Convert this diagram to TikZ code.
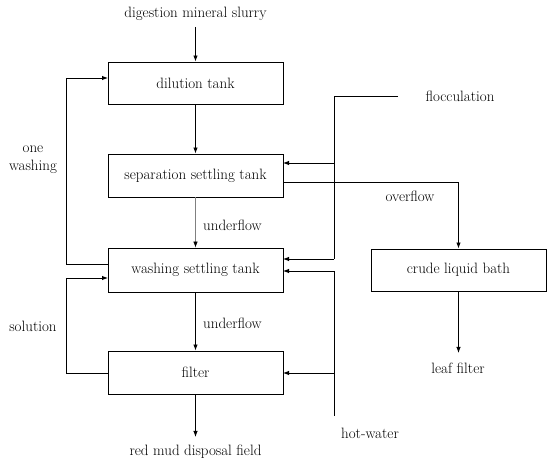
\documentclass[tikz,border=0pt]{standalone}
\usetikzlibrary{arrows.meta}
\begin{document}
\begin{tikzpicture}[x=1pt,y=-1pt,
  box/.style={draw,line width=0.95pt,minimum width=175pt,inner sep=0pt,font=\fontsize{15}{18}\selectfont},
  lbl/.style={inner sep=0pt,font=\fontsize{15}{18}\selectfont,align=center},
  conn/.style={line width=0.95pt},
  arr/.style={line width=0.95pt,-{Latex[length=6pt,width=4.5pt]}},
  thinarr/.style={line width=0.6pt,draw=gray,-{Latex[length=6pt,width=4.5pt,fill=black,color=black]}}]
\useasboundingbox (0,0) rectangle (550,465);
% boxes
\node[box,minimum height=42pt] (dil) at (195.5,83) {dilution tank};
\node[box,minimum height=43pt] (sep) at (195.5,175.5) {separation settling tank};
\node[box,minimum height=44pt] (wash) at (195.5,270) {washing settling tank};
\node[box,minimum height=43pt] (filt) at (195.5,372.5) {filter};
\node[box,minimum height=42pt] (crude) at (458.5,270) {crude liquid bath};
% labels
\node[lbl] (slurry) at (195.5,14) {digestion mineral slurry};
\node[lbl] (onewash) at (33,160) {one\\washing};
\node[lbl,anchor=west] (uf1) at (203,225) {underflow};
\node[lbl,anchor=west] (uf2) at (203,323) {underflow};
\node[lbl] (redmud) at (195.5,452) {red mud disposal field};
\node[lbl] (floc) at (460,96) {flocculation};
\node[lbl] (over) at (410,196) {overflow};
\node[lbl] (hot) at (370,433) {hot-water};
\node[lbl] (leaf) at (458,368) {leaf filter};
\node[lbl] (sol) at (33,326) {solution};
% coordinates
\coordinate (slurryEnd) at (195.5,27);
\coordinate (redEnd) at (195.5,437);
\coordinate (leafEnd) at (458.5,353);
\coordinate (flocStart) at (398,96);
\coordinate (flocBend) at (334,96);
\coordinate (hotStart) at (334,416);
\coordinate (dilIn) at (108,78);
\coordinate (washOut) at (108,264);
\coordinate (washIn) at (108,278);
\coordinate (filtOut) at (108,373);
\coordinate (sepFloc) at (283,163);
\coordinate (sepOver) at (283,182);
\coordinate (washFloc) at (283,259);
\coordinate (washHot) at (283,271);
\coordinate (filtHot) at (283,373);
% main flow
\draw[arr] (slurryEnd) -- (dil.north);
\draw[arr] (dil) -- (sep);
\draw[thinarr] (sep) -- (wash);
\draw[arr] (wash) -- (filt);
\draw[arr] (filt) -- (redEnd);
\draw[arr] (crude) -- (leafEnd);
% loops on left
\draw[arr] (washOut) -- (66,264) |- (dilIn);
\draw[arr] (filtOut) -- (66,373) |- (washIn);
% flocculation
\draw[conn] (flocStart) -- (flocBend) -- (334,259);
\draw[arr] (334,163) -- (sepFloc);
\draw[arr] (334,259) -- (washFloc);
% overflow
\draw[arr] (sepOver) -| (crude.north);
% hot water
\draw[conn] (hotStart) -- (334,271);
\draw[arr] (334,271) -- (washHot);
\draw[arr] (334,373) -- (filtHot);
\end{tikzpicture}
\end{document}
